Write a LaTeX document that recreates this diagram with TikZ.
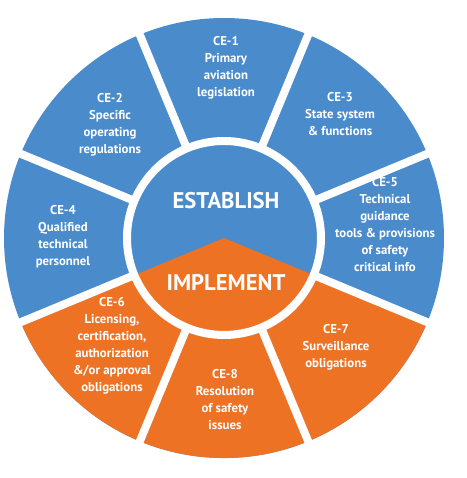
\documentclass[tikz,border=0pt]{standalone}
\usepackage{fontspec}
\setmainfont{PT Sans}
\definecolor{wheelblue}{RGB}{74,139,204}
\definecolor{wheelorange}{RGB}{238,114,36}

\begin{document}
\begin{tikzpicture}[
    x=0.75pt, y=0.75pt,
    seglabel/.style={text=white, align=center, font=\fontsize{9.6}{12.75}\selectfont\bfseries},
    corelabel/.style={text=white, font=\fontsize{17}{19}\selectfont\bfseries},
    gap/.style={white, line width=6pt}
]
\useasboundingbox (-224,-240) rectangle (243,238);
% wheel and core halves
\fill[wheelblue] (0,0) circle (220);
\fill[wheelorange] (0,0) -- (202.5:220) arc (202.5:337.5:220) -- cycle;
% white separators
\foreach \a in {22.5,67.5,...,337.5}
  \draw[gap] (\a:97) -- (\a:226);
\draw[gap] (0,0) circle (97);

\node[corelabel] (establish) at (2,37) {ESTABLISH};
\node[corelabel] (implement) at (2,-45) {IMPLEMENT};

\node[seglabel] (ce1) at (2,170) {CE-1\\Primary\\aviation\\legislation};
\node[seglabel] (ce2) at (-114,113) {CE-2\\Specific\\operating\\regulations};
\node[seglabel] (ce3) at (116,124) {CE-3\\State system\\\& functions};
\node[seglabel] (ce4) at (-161,1) {CE-4\\Qualified\\technical\\personnel};
\node[seglabel] (ce5) at (161,13) {CE-5\\Technical\\guidance\\tools \& provisions\\of safety\\critical info};
\node[seglabel] (ce6) at (-112,-108) {CE-6\\Licensing,\\certification,\\authorization\\\&/or approval\\obligations};
\node[seglabel] (ce7) at (112,-109) {CE-7\\Surveillance\\obligations};
\node[seglabel] (ce8) at (1,-162) {CE-8\\Resolution\\of safety\\issues};
\end{tikzpicture}
\end{document}
